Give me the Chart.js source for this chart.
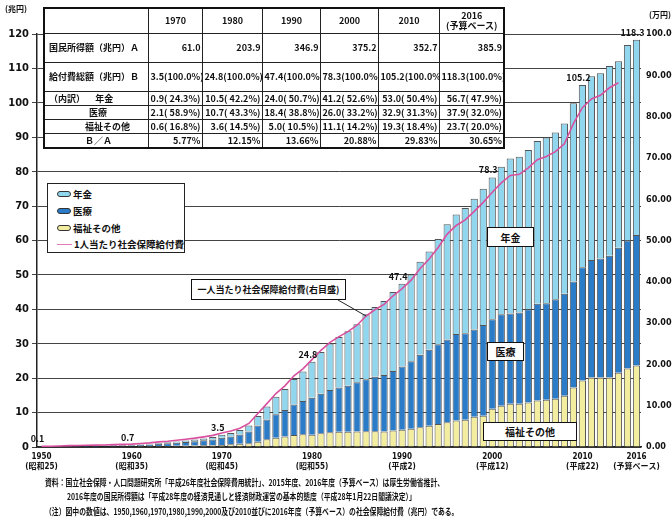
<!DOCTYPE html>
<html lang="ja">
<head>
<meta charset="utf-8">
<script src="https://cdn.jsdelivr.net/npm/chart.js@4/dist/chart.umd.min.js"></script>
<style>
html,body{margin:0;padding:0;background:#fff;}
#wrap{position:relative;width:672px;height:524px;overflow:hidden;font-family:"Noto Sans CJK JP","Noto Sans",sans-serif;font-weight:bold;color:#111;}
#chart{position:absolute;left:0;top:0;}
.abs{position:absolute;white-space:nowrap;}
table.sum{position:absolute;left:43px;top:7px;width:460px;border-collapse:collapse;table-layout:fixed;background:#fff;font-size:9px;border:2px solid #111;}
table.sum td{border:1px solid #222;padding:0 1px 0 2px;line-height:10px;text-align:right;overflow:hidden;white-space:nowrap;}
table.sum tr.hd td{text-align:center;height:24px;}
table.sum tr.big td{height:28px;}
table.sum tr.sm td{height:13px;}
table.sum td.lb{text-align:left;padding-left:4px;}
.tag{position:absolute;background:#fff;border:1.5px solid #111;font-size:10px;display:flex;align-items:center;justify-content:center;box-sizing:border-box;white-space:nowrap;}
#legend{position:absolute;left:47px;top:183px;width:138px;height:70px;border:1.5px solid #222;background:#fff;box-sizing:border-box;font-size:9.5px;}
#legend .it{position:absolute;left:9px;height:14px;display:flex;align-items:center;white-space:nowrap;}
#legend .sw{width:12px;height:4px;border:1.5px solid #333;border-radius:3px;margin-right:2px;}
#legend .ln{width:15px;height:0;border-top:1.5px solid #e07ab8;margin-right:2px;}
.note{position:absolute;font-size:9px;transform:scaleX(0.76);transform-origin:left top;white-space:nowrap;}
</style>
</head>
<body>
<div id="wrap">
<canvas id="chart" width="672" height="524"></canvas>

<div class="abs" style="left:5px;top:3px;font-size:8px;">(兆円)</div>
<div class="abs" style="left:649px;top:9px;font-size:8px;">(万円)</div>

<table class="sum" id="sumTable">
<colgroup><col style="width:104px"><col style="width:54px"><col style="width:60px"><col style="width:58px"><col style="width:58px"><col style="width:61px"><col style="width:65px"></colgroup>
<tbody id="sumBody"></tbody>
</table>

<div id="legend">
  <div class="it" style="top:3px"><div class="sw" style="background:#8fd6ee"></div>年金</div>
  <div class="it" style="top:20px"><div class="sw" style="background:#2a7cc8"></div>医療</div>
  <div class="it" style="top:37px"><div class="sw" style="background:#f3eda0"></div>福祉その他</div>
  <div class="it" style="top:53px"><div class="ln"></div>1人当たり社会保障給付費</div>
</div>

<div class="tag" style="left:191px;top:279px;width:155px;height:21px;font-size:9px;">一人当たり社会保障給付費(右目盛)</div>
<div class="tag" style="left:487px;top:227px;width:47px;height:20px;">年金</div>
<div class="tag" style="left:487px;top:342px;width:37px;height:19px;">医療</div>
<div class="tag" style="left:483px;top:422px;width:94px;height:19px;">福祉その他</div>

<div class="note" style="left:45px;top:476px;">資料：国立社会保障・人口問題研究所「平成26年度社会保障費用統計」、2015年度、2016年度（予算ベース）は厚生労働省推計、</div>
<div class="note" style="left:67px;top:490px;">2016年度の国民所得額は「平成28年度の経済見通しと経済財政運営の基本的態度（平成28年1月22日閣議決定）」</div>
<div class="note" style="left:45px;top:505px;">（注）図中の数値は、1950,1960,1970,1980,1990,2000及び2010並びに2016年度（予算ベース）の社会保障給付費（兆円）である。</div>
</div>

<script>
// 年度
const years = [
  '1950','1951','1952','1953','1954','1955','1956','1957','1958','1959',
  '1960','1961','1962','1963','1964','1965','1966','1967','1968','1969',
  '1970','1971','1972','1973','1974','1975','1976','1977','1978','1979',
  '1980','1981','1982','1983','1984','1985','1986','1987','1988','1989',
  '1990','1991','1992','1993','1994','1995','1996','1997','1998','1999',
  '2000','2001','2002','2003','2004','2005','2006','2007','2008','2009',
  '2010','2011','2012','2013','2014','2015','2016'
];

// 年金（兆円）
const pension = [
  0.000,0.001,0.002,0.003,0.004,0.021,0.023,0.025,0.035,0.050,
  0.146,0.178,0.212,0.249,0.293,0.351,0.413,0.479,0.569,0.685,
  0.856,1.029,1.278,1.700,2.762,3.805,5.069,6.088,7.412,8.574,
  10.467,12.097,13.492,14.697,15.831,16.892,18.864,20.310,21.468,22.976,
  24.026,25.237,27.030,28.583,30.586,33.499,34.733,36.395,37.966,39.579,
  41.2,42.8,45.0,45.2,46.3,47.3,48.1,48.5,49.5,51.8,
  53.0,53.4,53.8,55.1,54.2,56.8,56.7
];

// 医療（兆円）
const medical = [
  0.065,0.083,0.111,0.150,0.170,0.192,0.204,0.224,0.278,0.307,
  0.294,0.371,0.455,0.608,0.732,0.914,1.096,1.255,1.452,1.670,
  2.076,2.269,2.744,3.439,4.699,5.713,6.833,7.745,8.903,9.664,
  10.733,11.503,12.320,12.852,13.367,14.283,15.165,15.848,16.403,17.306,
  18.378,19.598,21.054,22.055,23.216,24.069,25.089,25.133,25.374,26.390,
  26.0,26.6,26.2,26.5,27.1,28.1,28.1,28.9,29.6,30.8,
  32.9,34.1,34.6,35.4,36.3,37.2,37.9
];

// 福祉その他（兆円）
const welfare = [
  0.061,0.074,0.096,0.131,0.140,0.176,0.174,0.188,0.218,0.224,
  0.215,0.255,0.281,0.319,0.325,0.339,0.379,0.422,0.479,0.521,
  0.592,0.771,0.910,1.099,1.561,2.251,2.696,3.036,3.460,3.713,
  3.574,3.975,4.275,4.415,4.440,4.505,4.550,4.553,4.519,4.758,
  5.011,5.302,5.762,6.196,6.670,7.158,7.719,7.891,8.800,9.057,
  11.1,12.0,12.6,12.6,12.9,13.5,13.7,14.0,14.9,17.3,
  19.3,20.2,20.2,20.2,21.6,22.8,23.7
];

// 1人当たり社会保障給付費（万円、右目盛） 1950〜2014年度
const perCapita = [
  0.15,0.19,0.24,0.33,0.36,0.44,0.45,0.48,0.58,0.63,
  0.70,0.86,1.00,1.23,1.40,1.63,1.89,2.14,2.46,2.81,
  3.40,3.89,4.55,5.70,8.13,10.51,12.94,14.80,17.23,18.93,
  21.16,23.41,25.33,26.73,27.93,29.48,31.72,33.29,34.53,36.62,
  38.36,40.40,43.21,45.50,48.31,51.55,53.64,55.00,57.04,59.24,
  61.69,63.96,65.76,66.03,67.60,69.55,70.36,71.53,73.43,78.30,
  82.15,84.27,85.15,86.98,88.21,null,null
];

// 軸ラベルを付ける年度と和暦
const tickYears = ['1950','1960','1970','1980','1990','2000','2010','2016'];
const tickEras  = ['(昭和25)','(昭和35)','(昭和45)','(昭和55)','(平成2)','(平成12)','(平成22)','(予算ベース)'];

// 給付費総額を表示する年度
const labelYears = ['1950','1960','1970','1980','1990','2000','2010','2016'];

// 表
const tableYears = ['1970','1980','1990','2000','2010','2016<br>(予算ベース)'];
const incomeA    = ['61.0','203.9','346.9','375.2','352.7','385.9'];
const totalB     = ['3.5(100.0%)','24.8(100.0%)','47.4(100.0%)','78.3(100.0%)','105.2(100.0%)','118.3(100.0%)'];
const rowPension = ['0.9( 24.3%)','10.5( 42.2%)','24.0( 50.7%)','41.2( 52.6%)','53.0( 50.4%)','56.7( 47.9%)'];
const rowMedical = ['2.1( 58.9%)','10.7( 43.3%)','18.4( 38.8%)','26.0( 33.2%)','32.9( 31.3%)','37.9( 32.0%)'];
const rowWelfare = ['0.6( 16.8%)','3.6( 14.5%)','5.0( 10.5%)','11.1( 14.2%)','19.3( 18.4%)','23.7( 20.0%)'];
const ratioBA    = ['5.77%','12.15%','13.66%','20.88%','29.83%','30.65%'];

(function buildTable(){
  const body = document.getElementById('sumBody');
  const row = (cls, label, vals) => {
    const tr = document.createElement('tr');
    tr.className = cls;
    tr.innerHTML = '<td class="lb">' + label + '</td>' + vals.map(v => '<td>' + v + '</td>').join('');
    body.appendChild(tr);
  };
  row('hd', '', tableYears);
  row('big', '国民所得額（兆円）Ａ', incomeA);
  row('big', '給付費総額（兆円）Ｂ', totalB);
  row('sm', '（内訳）&nbsp;&nbsp;&nbsp;&nbsp;&nbsp;年金', rowPension);
  row('sm', '<span style="padding-left:40px">医療</span>', rowMedical);
  row('sm', '<span style="padding-left:36px">福祉その他</span>', rowWelfare);
  row('sm', '<span style="padding-left:36px">Ｂ／Ａ</span>', ratioBA);
})();

const FONT = '"Noto Sans CJK JP", "Noto Sans", sans-serif';
const NARROW = '"Liberation Sans Narrow", "DejaVu Sans Condensed", "Noto Sans CJK JP", sans-serif';

// 総額の数値と右目盛の引出線
const overlayPlugin = {
  id: 'overlay',
  afterDatasetsDraw(chart) {
    const ctx = chart.ctx;
    const xs = chart.scales.x, ys = chart.scales.y;
    ctx.save();
    ctx.font = 'bold 9px ' + FONT;
    ctx.fillStyle = '#111';
    ctx.textAlign = 'center';
    ctx.textBaseline = 'bottom';
    labelYears.forEach(yr => {
      const i = years.indexOf(yr);
      const total = pension[i] + medical[i] + welfare[i];
      const x = xs.getPixelForValue(i) - 4;
      const y = ys.getPixelForValue(total) - 3;
      ctx.fillText(total.toFixed(1), x, y);
    });
    // 引出線
    const meta = chart.getDatasetMeta(3);
    const pt = meta.data[years.indexOf('1986')];
    ctx.strokeStyle = '#222';
    ctx.lineWidth = 1;
    ctx.beginPath();
    ctx.moveTo(338, 300);
    ctx.lineTo(pt.x, pt.y);
    ctx.stroke();
    ctx.restore();
  }
};

new Chart(document.getElementById('chart'), {
  type: 'bar',
  data: {
    labels: years,
    datasets: [
      { label: '福祉その他', data: welfare, backgroundColor: '#f3eda0', borderColor: '#555', borderWidth: 1, order: 1, yAxisID: 'y' },
      { label: '医療', data: medical, backgroundColor: '#2a7cc8', borderColor: '#555', borderWidth: 1, order: 1, yAxisID: 'y' },
      { label: '年金', data: pension, backgroundColor: '#8fd6ee', borderColor: '#555', borderWidth: 1, order: 1, yAxisID: 'y' },
      { type: 'line', label: '1人当たり社会保障給付費', data: perCapita, yAxisID: 'y1', borderColor: '#d8509f', borderWidth: 1.6, pointRadius: 0, tension: 0, fill: false, order: 0, spanGaps: false }
    ]
  },
  options: {
    responsive: false,
    animation: false,
    devicePixelRatio: 1,
    layout: { padding: { left: 0, right: 0, top: 34, bottom: 47 } },
    plugins: { legend: { display: false }, tooltip: { enabled: false } },
    datasets: { bar: { barPercentage: 0.8, categoryPercentage: 1.0 } },
    scales: {
      x: {
        stacked: true,
        grid: { display: false, drawTicks: false, tickLength: 0 },
        border: { display: true, color: '#222', width: 1.5 },
        ticks: {
          autoSkip: false, maxRotation: 0, minRotation: 0, padding: 5,
          color: '#111',
          font: { family: NARROW, size: 8, weight: 'bold', lineHeight: 1.25 },
          callback: function(v, i) {
            const k = tickYears.indexOf(years[i]);
            return k >= 0 ? [tickYears[k], tickEras[k]] : '';
          }
        },
        afterFit(s) { s.height = 30; }
      },
      y: {
        stacked: true, position: 'left', min: 0, max: 120,
        grid: { color: '#444', lineWidth: 1, tickLength: 5 },
        border: { display: true, color: '#222', width: 1.5 },
        ticks: { stepSize: 10, padding: 3, color: '#111', font: { family: NARROW, size: 11, weight: 'bold' } },
        afterFit(s) { s.width = 37; }
      },
      y1: {
        position: 'right', min: 0, max: 100,
        grid: { display: false, drawTicks: false },
        border: { display: false },
        ticks: { stepSize: 10, padding: 5, color: '#111', font: { family: NARROW, size: 9, weight: 'bold' },
                 callback: v => v.toFixed(2) },
        afterFit(s) { s.width = 31; }
      }
    }
  },
  plugins: [overlayPlugin]
});
</script>
</body>
</html>
